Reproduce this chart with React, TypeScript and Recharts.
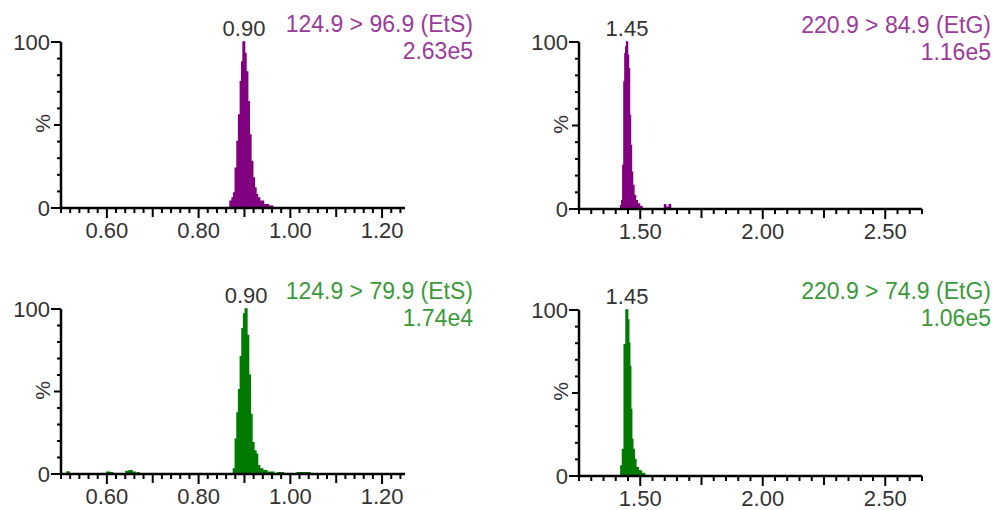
import React from "react";
import { AreaChart, Area, XAxis, YAxis, ReferenceDot } from "recharts";

const FONT = "'Liberation Sans', Arial, sans-serif";

// [retention time (min), relative intensity (%)]
const ets969: [number, number][] = [
  [0.5, 0], [0.866, 0], [0.871, 4], [0.875, 6], [0.878, 9], [0.882, 24],
  [0.8855, 40], [0.889, 56], [0.893, 76], [0.895, 88], [0.899, 100],
  [0.9015, 93], [0.905, 82], [0.909, 64], [0.912, 44], [0.916, 28],
  [0.92, 18], [0.923, 12], [0.927, 8], [0.93, 6], [0.936, 4], [0.947, 2],
  [0.958, 1], [0.965, 0], [1.25, 0],
];

const etg849: [number, number][] = [
  [1.25, 0], [1.418, 0], [1.422, 2], [1.427, 5], [1.431, 26], [1.436, 76],
  [1.439, 93], [1.443, 97], [1.446, 100], [1.45, 92], [1.454, 84],
  [1.458, 56], [1.462, 38], [1.466, 22], [1.471, 14], [1.477, 8],
  [1.484, 5], [1.492, 3], [1.502, 1.5], [1.512, 0], [1.597, 0],
  [1.601, 2.5], [1.606, 1], [1.616, 1], [1.621, 2.5], [1.626, 0], [2.65, 0],
];

const ets799: [number, number][] = [
  [0.5, 0], [0.512, 0], [0.515, 1.2], [0.52, 0], [0.598, 0], [0.602, 1],
  [0.61, 0.8], [0.615, 0], [0.638, 0], [0.645, 1.5], [0.652, 2], [0.658, 1],
  [0.665, 0], [0.668, 0.8], [0.672, 0], [0.874, 0], [0.878, 3], [0.882, 21],
  [0.8855, 37], [0.889, 51], [0.893, 71], [0.8963, 88], [0.9, 97],
  [0.9036, 100], [0.907, 84], [0.911, 60], [0.9145, 36], [0.918, 19],
  [0.923, 14], [0.927, 12], [0.93, 5], [0.936, 3], [0.9435, 2], [0.954, 1],
  [0.962, 1], [0.966, 0], [0.98, 0.8], [0.99, 0], [1.04, 0.8], [1.046, 0],
  [1.25, 0],
];

const etg749: [number, number][] = [
  [1.25, 0], [1.418, 0], [1.424, 6], [1.431, 16], [1.438, 79], [1.446, 100],
  [1.451, 94], [1.455, 80], [1.459, 66], [1.463, 40], [1.467, 22],
  [1.472, 16], [1.479, 10], [1.485, 5], [1.499, 3], [1.51, 1.5], [1.526, 0],
  [2.65, 0],
];

const etsLabels = [0.6, 0.8, 1.0, 1.2];
const etgLabels = [1.5, 2.0, 2.5];
const yLabels = [0, 100];

const range = (a: number, b: number, step: number) => {
  const out: number[] = [];
  for (let i = 0; a + i * step <= b + 1e-9; i++) out.push(+(a + i * step).toFixed(4));
  return out;
};

const near = (list: number[], v: number) => list.some((m) => Math.abs(m - v) < 1e-6);

function XTick(props: any) {
  const { x, y, payload, labels, mids } = props;
  const v = payload.value;
  const major = near(labels, v);
  const len = major ? 10 : near(mids, v) ? 9 : 5;
  return (
    <g>
      <line x1={x} x2={x} y1={y} y2={y + len} stroke="#000" strokeWidth={2} />
      {major && (
        <text x={x} y={y + 30} textAnchor="middle" fill="#333" fontSize={22} fontFamily={FONT}>
          {v.toFixed(2)}
        </text>
      )}
    </g>
  );
}

function YTick(props: any) {
  const { x, y, payload } = props;
  const v = payload.value;
  const major = near(yLabels, v);
  const len = major ? 10 : v === 50 ? 7 : 4;
  return (
    <g>
      <line x1={x - len} x2={x} y1={y} y2={y} stroke="#000" strokeWidth={2} />
      {major && (
        <text x={x - 11} y={y} dy="0.36em" textAnchor="end" fill="#333" fontSize={22} fontFamily={FONT}>
          {v}
        </text>
      )}
    </g>
  );
}

interface PanelProps {
  data: [number, number][];
  domain: [number, number];
  step: number;
  labels: number[];
  mids: number[];
  fill: string;
  ink: string;
  title: string;
  total: string;
  left: number;
  top: number;
  width: number;
  height: number;
  margin: { top: number; right: number; left: number; bottom: number };
  titleRight: number;
  titleTop: number;
}

function Chromatogram(p: PanelProps) {
  const rows = p.data.map(([t, v]) => ({ t, v }));
  const apex = rows.reduce((a, b) => (b.v > a.v ? b : a));
  const plotLeft = p.margin.left + 40;
  const plotTop = p.margin.top;
  const plotBottom = p.height - p.margin.bottom - 30;
  return (
    <div style={{ position: "absolute", left: p.left, top: p.top, width: p.width, height: p.height }}>
      <AreaChart width={p.width} height={p.height} data={rows} margin={p.margin} style={{ overflow: "visible" }}>
        <XAxis
          type="number"
          dataKey="t"
          domain={p.domain}
          ticks={range(p.domain[0], p.domain[1], p.step)}
          interval={0}
          allowDataOverflow
          height={30}
          tickSize={0}
          tickMargin={0}
          axisLine={{ stroke: "#000", strokeWidth: 2.5 }}
          tick={<XTick labels={p.labels} mids={p.mids} />}
        />
        <YAxis
          type="number"
          domain={[0, 100]}
          ticks={range(0, 100, 10)}
          interval={0}
          width={40}
          tickSize={0}
          tickMargin={0}
          axisLine={{ stroke: "#000", strokeWidth: 2.5 }}
          tick={<YTick />}
        />
        <Area
          dataKey="v"
          type="step"
          stroke={p.fill}
          strokeWidth={1.5}
          fill={p.fill}
          fillOpacity={1}
          isAnimationActive={false}
          baseValue={0}
        />
        <ReferenceDot
          x={apex.t}
          y={apex.v}
          r={0}
          fill="none"
          stroke="none"
          label={{
            value: apex.t.toFixed(2),
            position: "top",
            offset: 6,
            fill: "#333",
            fontSize: 22,
            fontFamily: FONT,
          }}
        />
      </AreaChart>
      <div
        style={{
          position: "absolute",
          left: plotLeft - 28,
          top: (plotTop + plotBottom) / 2 - 12,
          fontSize: 21,
          fontFamily: FONT,
          color: "#333",
          transform: "rotate(-90deg)",
          lineHeight: "21px",
        }}
      >
        %
      </div>
      <div
        style={{
          position: "absolute",
          right: p.titleRight,
          top: p.titleTop,
          textAlign: "right",
          color: p.ink,
          fontSize: 23,
          lineHeight: "27px",
          fontFamily: FONT,
          whiteSpace: "nowrap",
        }}
      >
        <div>{p.title}</div>
        <div>{p.total}</div>
      </div>
    </div>
  );
}

const PURPLE = "#800080";
const PURPLE_TEXT = "#9b3a9b";
const GREEN = "#007a00";
const GREEN_TEXT = "#3a9a3a";

export default function App() {
  return (
    <div style={{ position: "absolute", left: 0, top: 0, width: 994, height: 510, background: "#fff", overflow: "hidden" }}>
      <Chromatogram
        data={ets969}
        domain={[0.5, 1.25]}
        step={0.02}
        labels={etsLabels}
        mids={[0.7, 0.9, 1.1]}
        fill={PURPLE}
        ink={PURPLE_TEXT}
        title="124.9 > 96.9 (EtS)"
        total="2.63e5"
        left={0}
        top={0}
        width={480}
        height={255}
        margin={{ top: 42, right: 75, left: 21, bottom: 17 }}
        titleRight={7}
        titleTop={11}
      />
      <Chromatogram
        data={etg849}
        domain={[1.25, 2.65]}
        step={0.05}
        labels={etgLabels}
        mids={[1.75, 2.25]}
        fill={PURPLE}
        ink={PURPLE_TEXT}
        title="220.9 > 84.9 (EtG)"
        total="1.16e5"
        left={500}
        top={0}
        width={494}
        height={255}
        margin={{ top: 42, right: 72, left: 39, bottom: 16 }}
        titleRight={3}
        titleTop={12}
      />
      <Chromatogram
        data={ets799}
        domain={[0.5, 1.25]}
        step={0.02}
        labels={etsLabels}
        mids={[0.7, 0.9, 1.1]}
        fill={GREEN}
        ink={GREEN_TEXT}
        title="124.9 > 79.9 (EtS)"
        total="1.74e4"
        left={0}
        top={260}
        width={480}
        height={250}
        margin={{ top: 49, right: 75, left: 21, bottom: 6 }}
        titleRight={7}
        titleTop={18}
      />
      <Chromatogram
        data={etg749}
        domain={[1.25, 2.65]}
        step={0.05}
        labels={etgLabels}
        mids={[1.75, 2.25]}
        fill={GREEN}
        ink={GREEN_TEXT}
        title="220.9 > 74.9 (EtG)"
        total="1.06e5"
        left={500}
        top={260}
        width={494}
        height={250}
        margin={{ top: 50, right: 72, left: 39, bottom: 4 }}
        titleRight={3}
        titleTop={18}
      />
    </div>
  );
}
